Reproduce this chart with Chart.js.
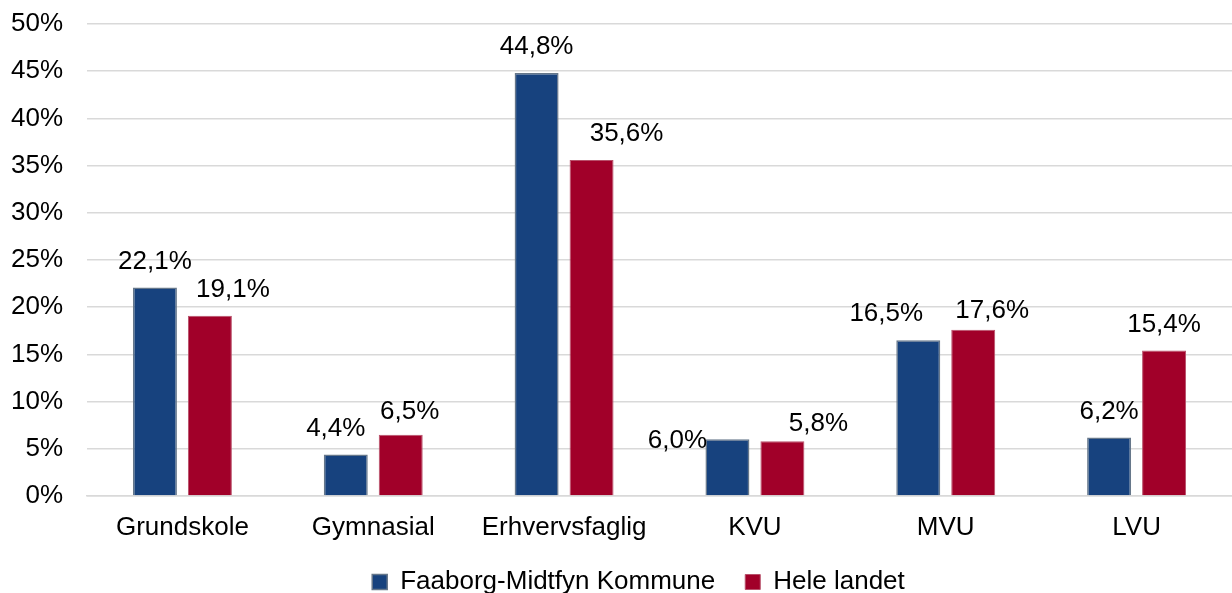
<!DOCTYPE html>
<html>
<head>
<meta charset="utf-8">
<script src="https://cdn.jsdelivr.net/npm/chart.js@4/dist/chart.umd.min.js"></script>
<style>
  html, body { margin: 0; padding: 0; background: #fff; overflow: hidden; }
  #wrap { position: relative; width: 1232px; height: 610px; }
</style>
</head>
<body>
<div id="wrap"><canvas id="chart"></canvas></div>
<script>
// data
const categories = ['Grundskole', 'Gymnasial', 'Erhvervsfaglig', 'KVU', 'MVU', 'LVU'];
const faaborgValues = [22.1, 4.4, 44.8, 6.0, 16.5, 6.2];
const landetValues = [19.1, 6.5, 35.6, 5.8, 17.6, 15.4];
const seriesNames = ['Faaborg-Midtfyn Kommune', 'Hele landet'];
const yTicks = [0, 5, 10, 15, 20, 25, 30, 35, 40, 45, 50];

const FONT = '"Liberation Sans", Arial, sans-serif';

// labels moved by hand in the original (dx, dy in px, relative to default spot)
const labelShift = [
  [[0, 0], [-10, 0], [0, 0], [-50, 27], [-32, 0], [0, 0]],
  [[23, 0], [9, 3], [35, 0], [36, 9], [19, 7], [0, 0]]
];

const barLabels = {
  id: 'barLabels',
  afterDatasetsDraw(chart) {
    const ctx = chart.ctx;
    ctx.save();
    ctx.font = '26px ' + FONT;
    ctx.fillStyle = '#000';
    ctx.textAlign = 'center';
    ctx.textBaseline = 'middle';
    chart.data.datasets.forEach((ds, i) => {
      chart.getDatasetMeta(i).data.forEach((bar, j) => {
        const s = labelShift[i][j];
        const txt = ds.data[j].toFixed(1).replace('.', ',') + '%';
        ctx.fillText(txt, bar.x + s[0], bar.y - 26 + s[1]);
      });
    });
    ctx.restore();
  }
};

// legend sits a bit right of centre and a bit higher in the original
const legendShift = {
  id: 'legendShift',
  afterLayout(chart) {
    const lg = chart.legend;
    if (!lg) return;
    lg.left += 17;
    lg.right += 17;
    lg.top -= 5;
    lg.bottom -= 5;
  }
};

new Chart(document.getElementById('chart'), {
  type: 'bar',
  data: {
    labels: categories,
    datasets: [
      {
        label: seriesNames[0],
        data: faaborgValues,
        backgroundColor: '#17427e',
        borderColor: '#66778a',
        borderWidth: 1.5,
        categoryPercentage: 0.576,
        barPercentage: 0.8
      },
      {
        label: seriesNames[1],
        data: landetValues,
        backgroundColor: '#a10029',
        borderColor: '#b8506a',
        borderWidth: 1,
        categoryPercentage: 0.576,
        barPercentage: 0.8
      }
    ]
  },
  options: {
    responsive: true,
    maintainAspectRatio: false,
    animation: false,
    layout: { padding: { top: 24, left: 11, right: 0, bottom: 0 } },
    plugins: {
      tooltip: { enabled: false },
      legend: {
        position: 'bottom',
        labels: {
          color: '#000',
          font: { family: FONT, size: 26 },
          boxWidth: 15,
          boxHeight: 15,
          padding: 30
        }
      }
    },
    scales: {
      y: {
        min: 0,
        max: 50,
        afterBuildTicks: axis => { axis.ticks = yTicks.map(v => ({ value: v })); },
        afterFit: axis => {
          axis.width = 76;
          axis.paddingTop = 0;
          axis.paddingBottom = 0;
        },
        grid: { color: '#d9d9d9', lineWidth: 1.5, drawTicks: false },
        border: { display: false },
        ticks: {
          color: '#000',
          padding: 24,
          font: { family: FONT, size: 26 },
          callback: v => v + '%'
        }
      },
      x: {
        afterFit: axis => { axis.height = 48; },
        grid: { display: false, drawTicks: false },
        border: { display: true, color: '#d9d9d9', width: 1.5 },
        ticks: {
          color: '#000',
          padding: 16,
          font: { family: FONT, size: 26 }
        }
      }
    }
  },
  plugins: [barLabels, legendShift]
});
</script>
</body>
</html>
